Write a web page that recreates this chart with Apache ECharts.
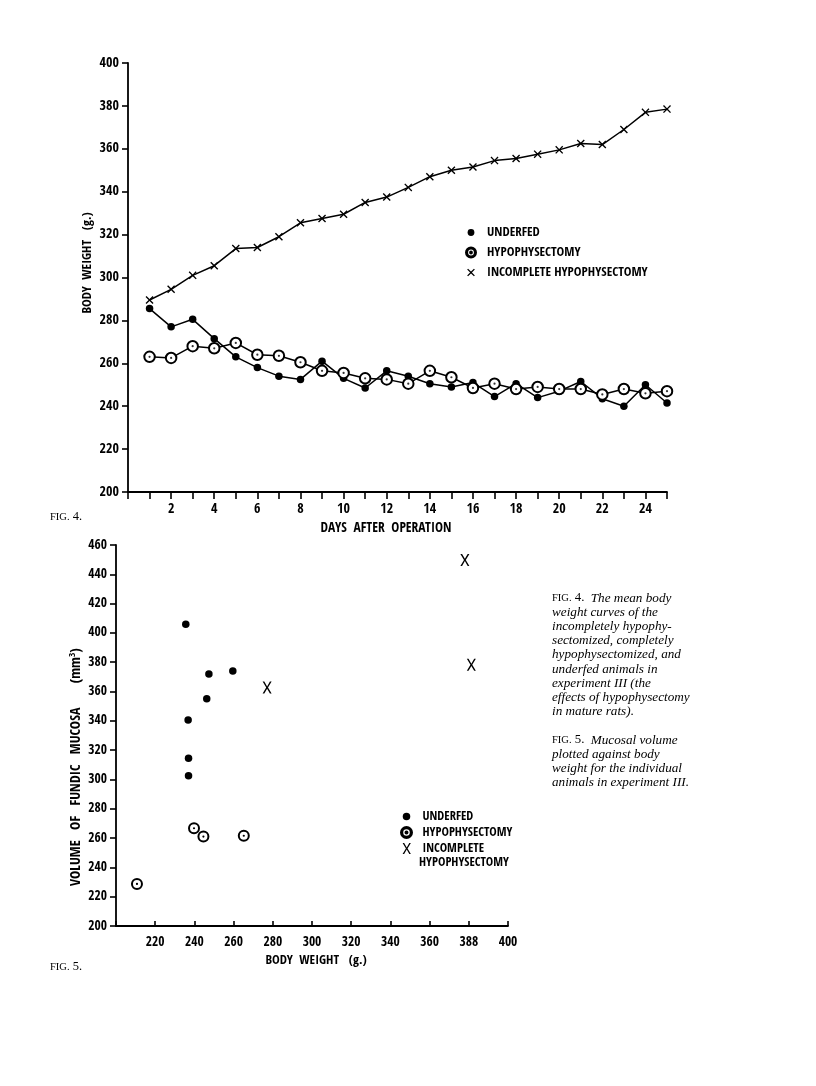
<!DOCTYPE html>
<html>
<head>
<meta charset="utf-8">
<script src="https://cdn.jsdelivr.net/npm/echarts@6/dist/echarts.min.js"></script>
<style>html,body{margin:0;padding:0;background:#fff}#c{width:816px;height:1086px}</style>
</head>
<body>
<div id="c"></div>
<script>
// ---- Fig. 4 data: mean body weight (g.) vs days after operation ----
const days = [1,2,3,4,5,6,7,8,9,10,11,12,13,14,15,16,17,18,19,20,21,22,23,24,25];
const underfed = [285.5,277,280.5,271.5,263,258,254,252.5,261,253,248.5,256.5,254,250.5,249,251,244.5,250.5,244,247,251.5,243.5,240,250,241.5];
const hypophysectomy = [263,262.5,268,267,269.5,264,263.5,260.5,256.5,255.5,253,252.5,250.5,256.5,253.5,248.5,250.5,248,249,248,248,245.5,248,246,247];
const incomplete = [289.5,294.5,301,305.5,313.5,314,319,325.5,327.5,329.5,335,337.5,342,347,350,351.5,354.5,355.5,357.5,359.5,362.5,362,369,377,378.5];

// ---- Fig. 5 data: mucosal volume (mm3) vs body weight (g.) ----
const underfedWeight = [235.6,247.4,259.6,246.3,236.8,237,237];
const underfedVolume = [406,372,374,355,340.5,314.5,302.5];
const hypoWeight = [210.7,239.8,244.6,265.2];
const hypoVolume = [228.7,266.7,261,261.6];
const incompleteWeight = [277.1,378,381.3];
const incompleteVolume = [362.7,449.8,378.2];

// tick labels of Fig. 5 x axis (as printed)
const bwTicks = [220,240,260,280,300,320,340,360,380,400];
const bwTickLabels = ['220','240','260','280','300','320','340','360','388','400'];

const names = ['UNDERFED','HYPOPHYSECTOMY','INCOMPLETE HYPOPHYSECTOMY'];

const FONT = '"Open Sans Condensed","Roboto Condensed",sans-serif';
const SERIF = '"Liberation Serif","DejaVu Serif",serif';

const crossSym = 'path://M0,1.2L1.2,0L5,3.8L8.8,0L10,1.2L6.2,5L10,8.8L8.8,10L5,6.2L1.2,10L0,8.8L3.8,5Z';
const bigXSym = 'path://M0,0L1.7,0L4.5,4.9L7.3,0L9,0L5.4,6L9,12L7.3,12L4.5,7.1L1.7,12L0,12L3.6,6Z';
// legend icons
const dotIcon = 'path://M-5,-5L-5,-5M5,5L5,5M0,-3.4A3.4,3.4 0 1 1 0,3.4A3.4,3.4 0 1 1 0,-3.4Z';
const ringIcon = 'path://M0,-5A5,5 0 1 1 0,5A5,5 0 1 1 0,-5ZM0,-3.9A3.9,3.9 0 1 0 0,3.9A3.9,3.9 0 1 0 0,-3.9ZM0,-0.9A0.9,0.9 0 1 1 0,0.9A0.9,0.9 0 1 1 0,-0.9Z';
const crossIcon = 'path://M-1.5,-1.5L-1.5,-1.5M11.5,11.5L11.5,11.5M0,1.2L1.2,0L5,3.8L8.8,0L10,1.2L6.2,5L10,8.8L8.8,10L5,6.2L1.2,10L0,8.8L3.8,5Z';
const bigXIcon = 'path://M-0.5,0L-0.5,0M0,0L1.7,0L4.5,4.9L7.3,0L9,0L5.4,6L9,12L7.3,12L4.5,7.1L1.7,12L0,12L3.6,6Z';

const pairs = (xs, ys) => xs.map((x, i) => [x, ys[i]]);

const axisLbl = {color:'#000', fontFamily:FONT, fontWeight:'bold', fontSize:14};
const axisLn = {show:true, lineStyle:{color:'#000', width:1.8}};

const captionLines = [
  '{sc|FIG.} {n|4.}  {i|The mean body}',
  '{i|weight curves of the}',
  '{i|incompletely hypophy-}',
  '{i|sectomized, completely}',
  '{i|hypophysectomized, and}',
  '{i|underfed animals in}',
  '{i|experiment III (the}',
  '{i|effects of hypophysectomy}',
  '{i|in mature rats).}',
  '{i| }',
  '{sc|FIG.} {n|5.}  {i|Mucosal volume}',
  '{i|plotted against body}',
  '{i|weight for the individual}',
  '{i|animals in experiment III.}'
];

function txt(x, y, text, opts) {
  opts = opts || {};
  return {
    type:'text', x:x, y:y, rotation: opts.rotation || 0, silent:true,
    style:{
      text:text, fill:'#000',
      font: opts.font || ('bold 13px ' + FONT),
      align: opts.align || 'center', verticalAlign: opts.valign || 'middle',
      textAlign: opts.align || 'center', textVerticalAlign: opts.valign || 'middle',
      rich: opts.rich
    }
  };
}

const chart = echarts.init(document.getElementById('c'), null, {renderer:'canvas'});
chart.setOption({
  backgroundColor:'#fff',
  animation:false,
  grid:[
    {left:128, top:63, width:539, height:429},
    {left:116, top:545, width:392, height:381}
  ],
  xAxis:[
    {type:'value', gridIndex:0, min:0, max:25, interval:1,
     axisLine:axisLn, splitLine:{show:false},
     axisTick:{show:true, inside:false, length:7, lineStyle:{color:'#000', width:1.6}},
     axisLabel:Object.assign({}, axisLbl, {margin:10, formatter:v => (v > 0 && v % 2 === 0) ? String(v) : ''})},
    {type:'value', gridIndex:1, min:200, max:400, interval:20,
     axisLine:axisLn, splitLine:{show:false},
     axisTick:{show:true, inside:true, length:5, lineStyle:{color:'#000', width:1.6}},
     axisLabel:Object.assign({}, axisLbl, {fontSize:13.5, margin:9, formatter:v => { const k = bwTicks.indexOf(v); return k >= 0 ? bwTickLabels[k] : ''; }})}
  ],
  yAxis:[
    {type:'value', gridIndex:0, min:200, max:400, interval:20,
     axisLine:axisLn, splitLine:{show:false},
     axisTick:{show:true, inside:false, length:6, lineStyle:{color:'#000', width:1.6}},
     axisLabel:Object.assign({}, axisLbl, {margin:9})},
    {type:'value', gridIndex:1, min:200, max:460, interval:20,
     axisLine:axisLn, splitLine:{show:false},
     axisTick:{show:true, inside:false, length:6, lineStyle:{color:'#000', width:1.6}},
     axisLabel:Object.assign({}, axisLbl, {fontSize:13.5, margin:9})}
  ],
  legend:[
    {left:460, top:221, orient:'vertical', itemWidth:22, itemHeight:10, itemGap:7,
     selectedMode:false,
     textStyle:{color:'#000', fontFamily:FONT, fontWeight:'bold', fontSize:13},
     data:[{name:names[0], icon:dotIcon},{name:names[1], icon:ringIcon},{name:names[2], icon:crossIcon}]},
    {left:395, top:805, orient:'vertical', itemWidth:22, itemHeight:11, itemGap:3,
     selectedMode:false,
     textStyle:{color:'#000', fontFamily:FONT, fontWeight:'bold', fontSize:12.5},
     formatter: n => n === names[2] ? 'INCOMPLETE' : n,
     data:[{name:names[0], icon:dotIcon},{name:names[1], icon:ringIcon},{name:names[2], icon:bigXIcon}]}
  ],
  series:[
    {name:names[0], type:'line', xAxisIndex:0, yAxisIndex:0, data:pairs(days, underfed),
     symbol:'circle', symbolSize:7.5, clip:false, color:'#000',
     lineStyle:{color:'#000', width:1.5}, itemStyle:{color:'#000'}},
    {name:names[1], type:'line', xAxisIndex:0, yAxisIndex:0, data:pairs(days, hypophysectomy),
     symbol:'emptyCircle', symbolSize:10.5, clip:false, color:'#000', z:3,
     lineStyle:{color:'#000', width:1.5}, itemStyle:{color:'#000', borderColor:'#000', borderWidth:1.5}},
    {name:names[1], type:'scatter', xAxisIndex:0, yAxisIndex:0, data:pairs(days, hypophysectomy),
     symbol:'circle', symbolSize:2.2, z:6, itemStyle:{color:'#000'}, silent:true},
    {name:names[2], type:'line', xAxisIndex:0, yAxisIndex:0, data:pairs(days, incomplete),
     symbol:crossSym, symbolSize:8, clip:false, color:'#000',
     lineStyle:{color:'#000', width:1.5}, itemStyle:{color:'#000'}},

    {name:names[0], type:'scatter', xAxisIndex:1, yAxisIndex:1, data:pairs(underfedWeight, underfedVolume),
     symbol:'circle', symbolSize:7.5, itemStyle:{color:'#000', opacity:1}},
    {name:names[1], type:'scatter', xAxisIndex:1, yAxisIndex:1, data:pairs(hypoWeight, hypoVolume),
     symbol:'emptyCircle', symbolSize:10, itemStyle:{color:'#000', borderColor:'#000', borderWidth:1.5, opacity:1}},
    {name:names[1], type:'scatter', xAxisIndex:1, yAxisIndex:1, data:pairs(hypoWeight, hypoVolume),
     symbol:'circle', symbolSize:2.2, z:6, itemStyle:{color:'#000', opacity:1}, silent:true},
    {name:names[2], type:'scatter', xAxisIndex:1, yAxisIndex:1, data:pairs(incompleteWeight, incompleteVolume),
     symbol:bigXSym, symbolSize:[9,12], itemStyle:{color:'#000', opacity:1}}
  ],
  graphic:[
    txt(88, 263, 'BODY  WEIGHT   (g.)', {rotation:Math.PI/2, font:'bold 13px ' + FONT}),
    txt(386, 528, 'DAYS  AFTER  OPERATION', {font:'bold 13.5px ' + FONT}),
    txt(76, 767, '{t|VOLUME   OF   FUNDIC   MUCOSA       (mm}{s|3}{t|)}', {rotation:Math.PI/2,
      rich:{t:{fontFamily:FONT, fontWeight:'bold', fontSize:14, fill:'#000'},
            s:{fontFamily:FONT, fontWeight:'bold', fontSize:9.5, fill:'#000', verticalAlign:'bottom', padding:[0,0,7,0]}}}),
    txt(316, 961, 'BODY  WEIGHT   (g.)', {font:'bold 13px ' + FONT}),
    txt(419, 863, 'HYPOPHYSECTOMY', {align:'left', font:'bold 12.5px ' + FONT}),
    txt(50, 517, '{sc|FIG.} {n|4.}', {align:'left', rich:{sc:{fontFamily:SERIF, fontSize:10.5, fill:'#000'}, n:{fontFamily:SERIF, fontSize:12.5, fill:'#000'}}}),
    txt(50, 967, '{sc|FIG.} {n|5.}', {align:'left', rich:{sc:{fontFamily:SERIF, fontSize:10.5, fill:'#000'}, n:{fontFamily:SERIF, fontSize:12.5, fill:'#000'}}}),
    txt(552, 591, captionLines.join('\n'), {align:'left', valign:'top',
      rich:{
        sc:{fontFamily:SERIF, fontSize:10.5, lineHeight:14.2, fill:'#000'},
        n:{fontFamily:SERIF, fontSize:12.8, lineHeight:14.2, fill:'#000'},
        i:{fontFamily:SERIF, fontStyle:'italic', fontSize:13.2, lineHeight:14.2, fill:'#000'}
      }})
  ]
});
</script>
</body>
</html>
